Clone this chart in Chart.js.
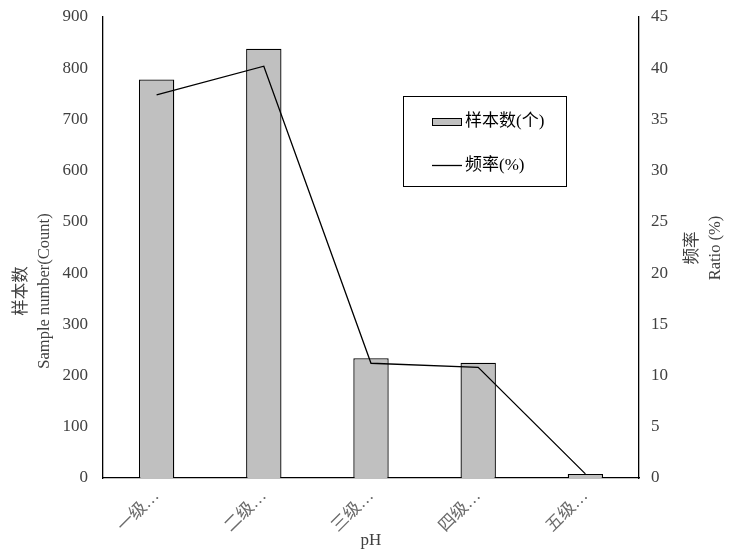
<!DOCTYPE html>
<html>
<head>
<meta charset="utf-8">
<script src="https://cdn.jsdelivr.net/npm/chart.js@4"></script>
<style>
  html, body { margin: 0; padding: 0; background: #fff; }
  #wrap { width: 741px; height: 552px; }
</style>
</head>
<body>
<div id="wrap"><canvas id="myChart" width="741" height="552"></canvas></div>
<script>
// category labels along the x-axis
var grades = ["一级…", "二级…", "三级…", "四级…", "五级…"];
// sample counts (left axis)
var counts = [778, 838, 234, 225, 8];
// ratio in percent (right axis)
var ratios = [37.4, 40.2, 11.2, 10.8, 0.4];
var leftTitle = ["样本数", "Sample number(Count)"];
var rightTitle = ["频率", "Ratio (%)"];
var xTitle = "pH";

var serif = "'Liberation Serif', 'Noto Sans CJK SC', serif";

// legend box drawn inside the plot, from the datasets
var boxLegend = {
  id: 'boxLegend',
  afterDraw: function (chart) {
    var c = chart.ctx;
    var a = chart.chartArea;
    var x0 = a.left + 300, y0 = 96, w = 163, h = 90;
    c.save();
    c.strokeStyle = '#000';
    c.lineWidth = 1;
    c.strokeRect(x0 + 0.5, y0 + 0.5, w, h);
    c.font = "17px " + serif;
    c.textBaseline = 'middle';
    var ds = chart.data.datasets;
    // bar swatch
    c.fillStyle = ds[0].backgroundColor;
    c.fillRect(x0 + 29, y0 + 22, 29, 7);
    c.strokeRect(x0 + 29.5, y0 + 22.5, 29, 7);
    c.fillStyle = '#000';
    c.fillText(ds[0].label, x0 + 62, y0 + 26);
    // line swatch
    c.lineWidth = 1.3;
    c.beginPath();
    c.moveTo(x0 + 29, y0 + 69.5);
    c.lineTo(x0 + 59, y0 + 69.5);
    c.stroke();
    c.fillText(ds[1].label, x0 + 62, y0 + 70);
    c.restore();
  }
};

// both y titles read bottom-to-top, placed like the original
var axisTitles = {
  id: 'axisTitles',
  afterDraw: function (chart) {
    var a = chart.chartArea;
    var c = chart.ctx;
    c.save();
    c.font = "16.5px " + serif;
    c.fillStyle = '#404040';
    c.textAlign = 'center';
    c.textBaseline = 'middle';
    // left
    c.save();
    c.translate(0, 291);
    c.rotate(-Math.PI / 2);
    c.fillText(leftTitle[0], 0, 22);
    c.fillText(leftTitle[1], 0, 45);
    c.restore();
    // right
    c.translate(a.right, 248);
    c.rotate(-Math.PI / 2);
    c.fillText(rightTitle[0], 0, 54);
    c.fillText(rightTitle[1], 0, 77);
    c.restore();
  }
};

var ctx = document.getElementById("myChart");
var myChart = new Chart(ctx, {
  type: 'bar',
  data: {
    labels: grades,
    datasets: [
      {
        type: 'bar',
        label: "样本数(个)",
        data: counts,
        yAxisID: 'y',
        backgroundColor: "#c0c0c0",
        borderColor: "#000",
        borderWidth: 1.3,
        barPercentage: 0.33,
        categoryPercentage: 1,
        order: 2
      },
      {
        type: 'line',
        label: "频率(%)",
        data: ratios,
        yAxisID: 'y1',
        borderColor: "#000",
        borderWidth: 1.3,
        pointRadius: 0,
        tension: 0,
        fill: false,
        order: 1
      }
    ]
  },
  options: {
    responsive: false,
    animation: false,
    layout: { padding: { top: 17, left: 0, right: 0, bottom: 0 } },
    plugins: {
      legend: { display: false },
      tooltip: { enabled: false }
    },
    scales: {
      x: {
        grid: { display: false, drawTicks: false },
        border: { display: true, color: '#000', width: 1.3 },
        afterFit: function (s) { s.height = 74; },
        ticks: {
          color: '#6b6b6b',
          font: { family: serif, size: 17 },
          minRotation: 45,
          maxRotation: 45,
          padding: 8
        },
        title: {
          display: true,
          text: xTitle,
          color: '#404040',
          font: { family: serif, size: 17 },
          padding: { top: 0, bottom: 1 }
        }
      },
      y: {
        position: 'left',
        min: 0,
        max: 900,
        grid: { display: false, drawTicks: false },
        border: { display: true, color: '#000', width: 1.3 },
        afterFit: function (s) { s.width = 103; s.paddingTop = 0; s.paddingBottom = 0; },
        ticks: {
          stepSize: 100,
          color: '#404040',
          font: { family: serif, size: 17 },
          padding: 15
        },
        title: { display: false }
      },
      y1: {
        position: 'right',
        min: 0,
        max: 45,
        grid: { display: false, drawTicks: false },
        border: { display: true, color: '#000', width: 1.3 },
        afterFit: function (s) { s.width = 102; s.paddingTop = 0; s.paddingBottom = 0; },
        ticks: {
          stepSize: 5,
          color: '#404040',
          font: { family: serif, size: 17 },
          padding: 12
        },
        title: { display: false }
      }
    }
  },
  plugins: [boxLegend, axisTitles]
});
</script>
</body>
</html>
